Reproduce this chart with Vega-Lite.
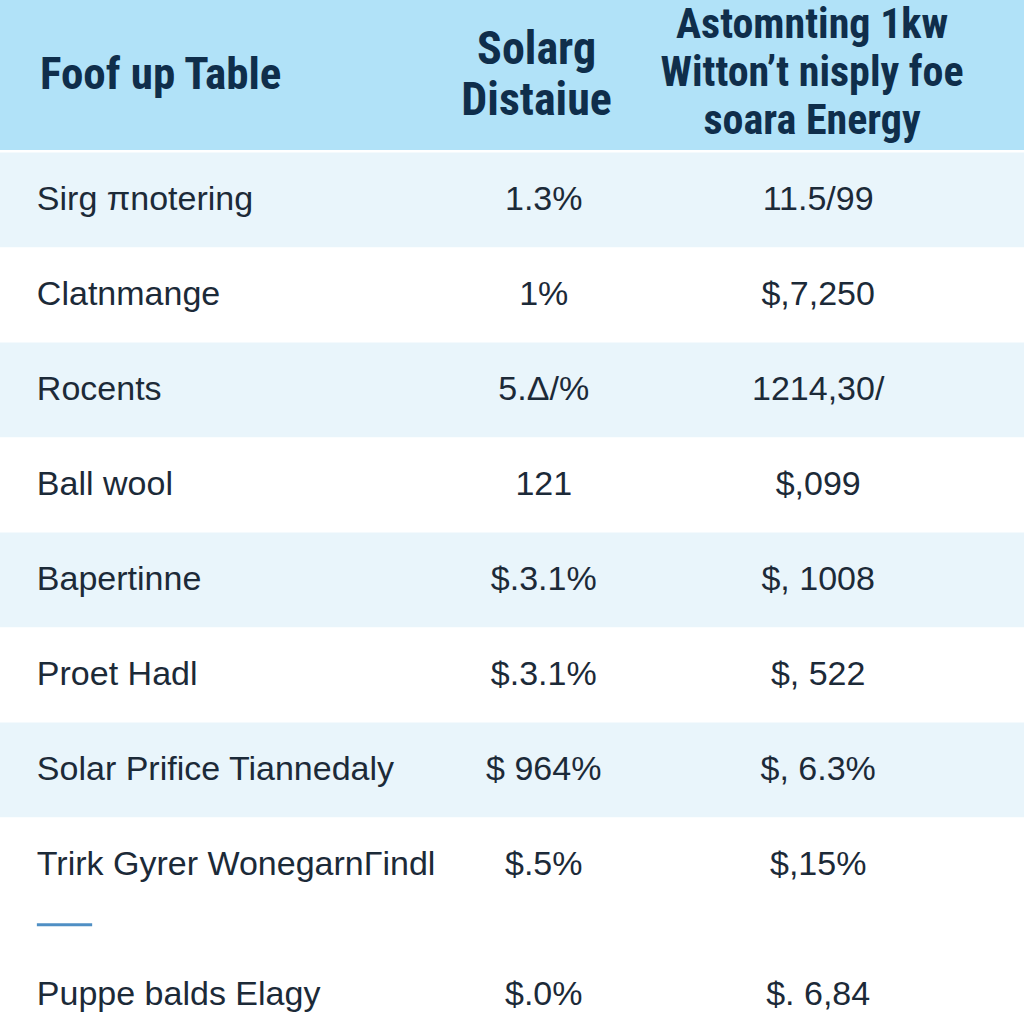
{
  "$schema": "https://vega.github.io/schema/vega-lite/v6.json",
  "width": 1024,
  "height": 1024,
  "padding": 0,
  "autosize": {"type": "fit", "contains": "padding"},
  "background": "#ffffff",
  "config": {"view": {"stroke": null}},
  "datasets": {
    "header": [
      {"col": "A", "text": "Foof up Table"},
      {"col": "B", "text": "Solarg\nDistaiue"},
      {"col": "C", "text": "Astomnting 1kw\nWitton’t nisply foe\nsoara Energy"}
    ],
    "table": [
      {"row": 1, "item": "Sirg \u03c0notering", "share": "1.3%", "cost": "11.5/99", "shade": "tint"},
      {"row": 2, "item": "Clatnmange", "share": "1%", "cost": "$,7,250", "shade": "white"},
      {"row": 3, "item": "Rocents", "share": "5.\u0394/%", "cost": "1214,30/", "shade": "tint"},
      {"row": 4, "item": "Ball wool", "share": "121", "cost": "$,099", "shade": "white"},
      {"row": 5, "item": "Bapertinne", "share": "$.3.1%", "cost": "$, 1008", "shade": "tint"},
      {"row": 6, "item": "Proet Hadl", "share": "$.3.1%", "cost": "$,  522", "shade": "white"},
      {"row": 7, "item": "Solar Prifice Tiannedaly", "share": "$ 964%", "cost": "$, 6.3%", "shade": "tint"},
      {"row": 8, "item": "Trirk Gyrer WonegarnΓindl", "share": "$.5%", "cost": "$,15%", "shade": "white"},
      {"row": 9.37, "item": "Puppe balds Elagy", "share": "$.0%", "cost": "$. 6,84", "shade": "white"}
    ]
  },
  "layer": [
    {
      "data": {"name": "table"},
      "transform": [
        {"filter": "datum.row <= 8"},
        {"calculate": "datum.row - 0.5", "as": "top"},
        {"calculate": "datum.row + 0.5", "as": "bottom"}
      ],
      "mark": {"type": "rect"},
      "encoding": {
        "x": {"datum": 0, "type": "quantitative", "scale": {"domain": [0, 100], "nice": false, "zero": false}, "axis": null},
        "x2": {"datum": 100},
        "y": {"field": "top", "type": "quantitative", "scale": {"domain": [-1.105, 9.674], "nice": false, "zero": false, "reverse": true}, "axis": null},
        "y2": {"field": "bottom"},
        "color": {"field": "shade", "type": "nominal", "scale": {"domain": ["tint", "white"], "range": ["#e9f5fb", "#ffffff"]}, "legend": null}
      }
    },
    {
      "data": {"values": [{}]},
      "mark": {"type": "rect", "color": "#b1e2f8"},
      "encoding": {
        "x": {"datum": 0, "type": "quantitative"},
        "x2": {"datum": 100},
        "y": {"datum": -1.105, "type": "quantitative"},
        "y2": {"datum": 0.474}
      }
    },
    {
      "data": {"values": [{}]},
      "mark": {"type": "rule", "color": "#4f8fc4", "strokeWidth": 3},
      "encoding": {
        "x": {"datum": 3.6, "type": "quantitative"},
        "x2": {"datum": 9.0},
        "y": {"datum": 8.63, "type": "quantitative"}
      }
    },
    {
      "data": {"name": "header"},
      "transform": [{"filter": "datum.col == 'A'"}],
      "mark": {"type": "text", "align": "left", "baseline": "middle", "font": "Roboto Condensed, Roboto", "fontWeight": "bold", "fontSize": 45, "color": "#0f2e4b", "lineBreak": "\n"},
      "encoding": {
        "x": {"datum": 3.9, "type": "quantitative"},
        "y": {"datum": -0.32, "type": "quantitative"},
        "text": {"field": "text"}
      }
    },
    {
      "data": {"name": "header"},
      "transform": [{"filter": "datum.col == 'B'"}],
      "mark": {"type": "text", "align": "center", "baseline": "middle", "font": "Roboto Condensed, Roboto", "fontWeight": "bold", "fontSize": 46, "lineHeight": 51, "color": "#0f2e4b", "lineBreak": "\n"},
      "encoding": {
        "x": {"datum": 52.4, "type": "quantitative"},
        "y": {"datum": -0.579, "type": "quantitative"},
        "text": {"field": "text"}
      }
    },
    {
      "data": {"name": "header"},
      "transform": [{"filter": "datum.col == 'C'"}],
      "mark": {"type": "text", "align": "center", "baseline": "middle", "font": "Roboto Condensed, Roboto", "fontWeight": "bold", "fontSize": 42, "lineHeight": 48, "color": "#0f2e4b", "lineBreak": "\n"},
      "encoding": {
        "x": {"datum": 79.3, "type": "quantitative"},
        "y": {"datum": -0.842, "type": "quantitative"},
        "text": {"field": "text"}
      }
    },
    {
      "data": {"name": "table"},
      "mark": {"type": "text", "align": "left", "baseline": "middle", "font": "Liberation Sans", "fontSize": 34, "letterSpacing": 1.5, "color": "#1c2a38"},
      "encoding": {
        "x": {"datum": 3.6, "type": "quantitative"},
        "y": {"field": "row", "type": "quantitative"},
        "text": {"field": "item"}
      }
    },
    {
      "data": {"name": "table"},
      "mark": {"type": "text", "align": "center", "baseline": "middle", "font": "Liberation Sans", "fontSize": 34, "letterSpacing": 1.5, "color": "#1c2a38"},
      "encoding": {
        "x": {"datum": 53.1, "type": "quantitative"},
        "y": {"field": "row", "type": "quantitative"},
        "text": {"field": "share"}
      }
    },
    {
      "data": {"name": "table"},
      "mark": {"type": "text", "align": "center", "baseline": "middle", "font": "Liberation Sans", "fontSize": 34, "letterSpacing": 1.5, "color": "#1c2a38"},
      "encoding": {
        "x": {"datum": 79.9, "type": "quantitative"},
        "y": {"field": "row", "type": "quantitative"},
        "text": {"field": "cost"}
      }
    }
  ]
}
